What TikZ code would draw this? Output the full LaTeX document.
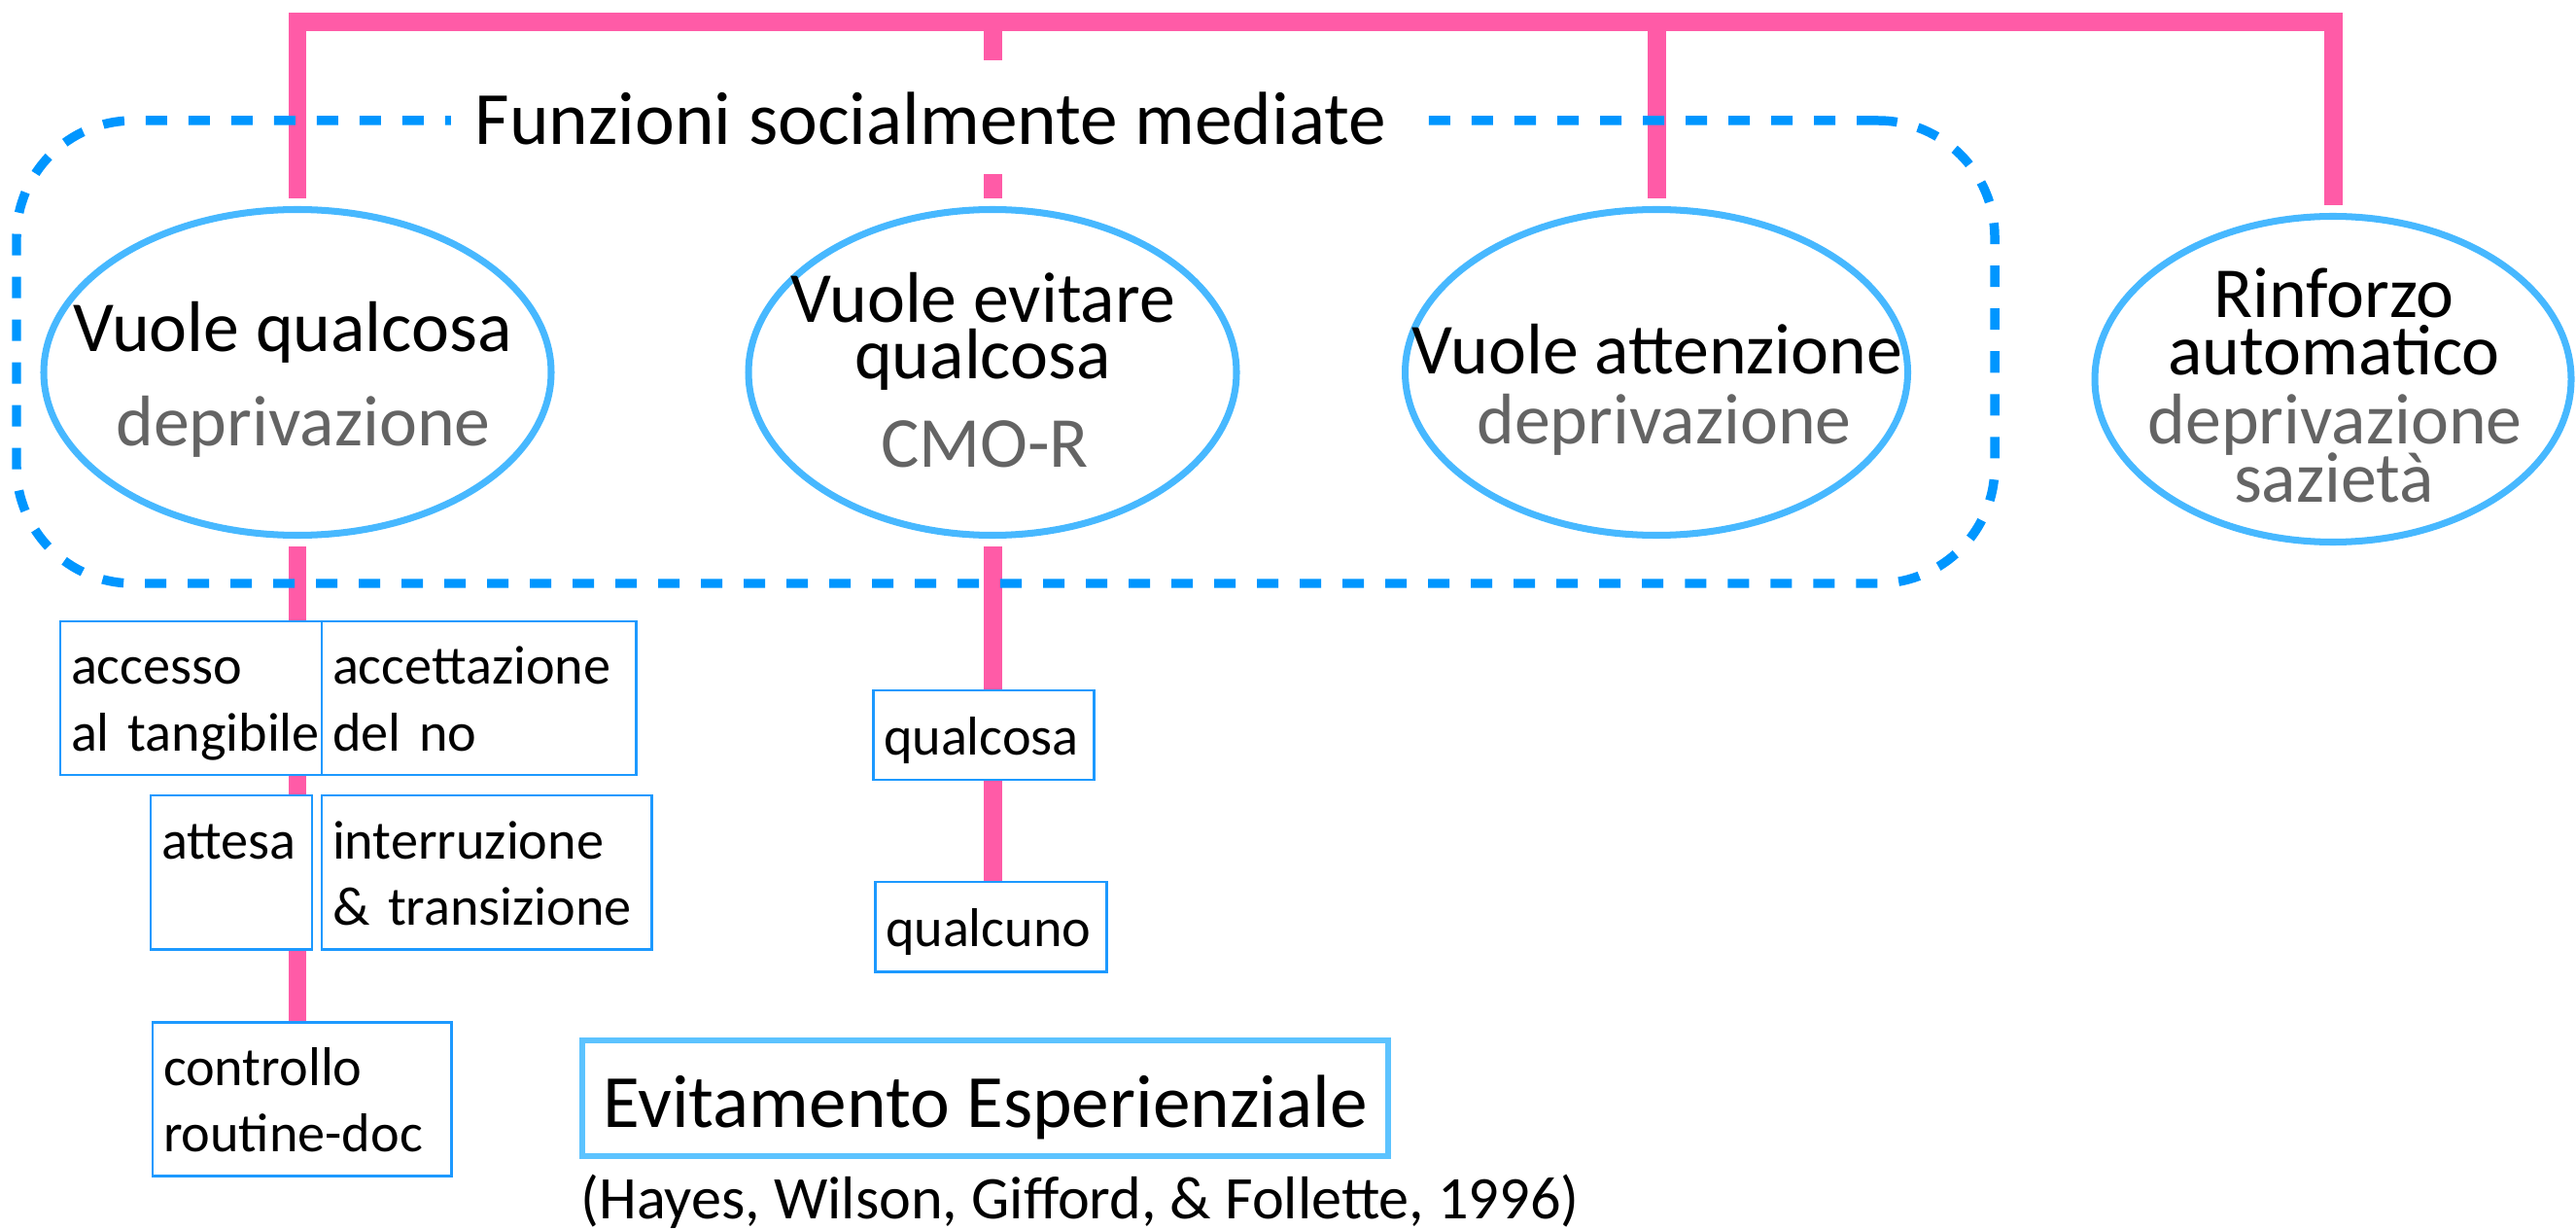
\documentclass[tikz,border=0pt]{standalone}
\usepackage{fontspec}
\setmainfont{Carlito}
\usepackage{tikz}
\usetikzlibrary{shapes.geometric}
\usetikzlibrary{positioning}

\definecolor{linkpink}{HTML}{FF5BA7}
\definecolor{ringblue}{HTML}{47B8FF}
\definecolor{dashblue}{HTML}{0096FF}
\definecolor{boxblue}{HTML}{1C99FF}
\definecolor{evblue}{HTML}{5CC3FF}
\definecolor{subgray}{HTML}{646464}

\newcommand{\leafstrut}{\rule[-0.14cm]{0pt}{0.68cm}}

\begin{document}
\begin{tikzpicture}[
    fn/.style={ellipse, draw=ringblue, line width=2pt, minimum height=3.35cm},
    big/.style={inner sep=0pt, font=\fontsize{21}{21}\selectfont},
    sub/.style={big, text=subgray},
    leaf/.style={draw=boxblue, line width=0.85pt, fill=white, inner xsep=0.11cm, inner ysep=0pt, align=left, font=\fontsize{16}{19.35}\selectfont},
    link/.style={draw=linkpink, line width=5.4pt},
    gap/.style={shorten <=0.08cm, shorten >=0.08cm}
]
    \useasboundingbox (0,0) rectangle (26.5,-12.65);

    \node[fn, minimum width=5.22cm] (vq) at (3.06,-3.83) {};
    \node[fn, minimum width=5.02cm] (ve) at (10.21,-3.83) {};
    \node[fn, minimum width=5.17cm] (va) at (17.04,-3.83) {};
    \node[fn, minimum width=4.90cm] (ra) at (24.00,-3.90) {};

    \node[big, anchor=base] (vq1) at (3.01,-3.62) {Vuole qualcosa};
    \node[sub, anchor=base] (vq2) at (3.12,-4.59) {deprivazione};
    \node[big, anchor=base] (ve1) at (10.11,-3.32) {Vuole evitare};
    \node[big, anchor=base] (ve2) at (10.11,-3.90) {qualcosa};
    \node[sub, anchor=base] (ve3) at (10.13,-4.80) {CMO-R};
    \node[big, anchor=base] (va1) at (17.05,-3.85) {Vuole attenzione};
    \node[sub, anchor=base] (va2) at (17.12,-4.57) {deprivazione};
    \node[big, anchor=base] (ra1) at (24.01,-3.27) {Rinforzo};
    \node[big, anchor=base] (ra2) at (24.01,-3.86) {automatico};
    \node[sub, anchor=base] (ra3) at (24.02,-4.57) {deprivazione};
    \node[sub, anchor=base] (ra4) at (24.01,-5.16) {sazietà};

    \node[leaf, text width=2.47cm, minimum height=1.58cm] (acc) at (1.965,-7.18) {\leafstrut accesso\\\leafstrut\mbox{al tangibile}};
    \node[leaf, text width=3.01cm, minimum height=1.58cm] (acn) at (4.925,-7.18) {\leafstrut accettazione\\\leafstrut\mbox{del no}};
    \node[leaf, text width=1.44cm, minimum height=1.58cm] (att) at (2.38,-8.97) {\leafstrut attesa\\\leafstrut};
    \node[leaf, text width=3.17cm, minimum height=1.58cm] (itr) at (5.005,-8.97) {\leafstrut interruzione\\\leafstrut\mbox{\& transizione}};
    \node[leaf, text width=2.85cm, minimum height=1.58cm] (ctl) at (3.105,-11.30) {\leafstrut controllo\\\leafstrut\mbox{routine-doc}};
    \node[leaf, text width=2.05cm, minimum height=0.92cm] (qsa) at (10.115,-7.56) {\leafstrut qualcosa};
    \node[leaf, text width=2.16cm, minimum height=0.92cm] (qno) at (10.19,-9.53) {\leafstrut qualcuno};

    \node[draw=evblue, line width=1.7pt, minimum width=8.29cm, minimum height=1.19cm, text height=0.59cm, text depth=0pt, font=\fontsize{22}{22}\selectfont] (evi) at (10.135,-11.295) {Evitamento Esperienziale};
    \node[anchor=base west, inner sep=0pt, font=\fontsize{17.7}{17.7}\selectfont] (cit) at (5.97,-12.53) {(Hayes, Wilson, Gifford, \& Follette, 1996)};

    % pink tree
    \coordinate (bar) at (10.21,-0.225);
    \draw[link, gap, line join=miter] (vq.north) |- (bar) -| (ra.north);
    \draw[link, shorten >=0.08cm] (bar) -- (ve.north);
    \draw[link, shorten >=0.08cm] (bar -| va.north) -- (va.north);
    \draw[link, shorten <=0.08cm] (vq.south) -- (vq.south |- acc.north);
    \draw[link] (vq.south |- acc.south) -- (vq.south |- att.north);
    \draw[link] (vq.south |- att.south) -- (vq.south |- ctl.north);
    \draw[link, shorten <=0.08cm] (ve.south) -- (ve.south |- qsa.north);
    \draw[link] (ve.south |- qsa.south) -- (ve.south |- qno.north);

    \node[draw=dashblue, line width=2.7pt, dash pattern=on 6.26pt off 6.26pt, rounded corners=1.2cm, minimum width=20.35cm, minimum height=4.76cm] (grp) at (10.345,-3.62) {};
    \node[anchor=base, fill=white, inner xsep=0.25cm, inner ysep=0pt, text height=0.87cm, text depth=0.30cm, font=\fontsize{22}{22}\selectfont] (ttl) at (9.575,-1.49) {Funzioni socialmente mediate};
\end{tikzpicture}
\end{document}
